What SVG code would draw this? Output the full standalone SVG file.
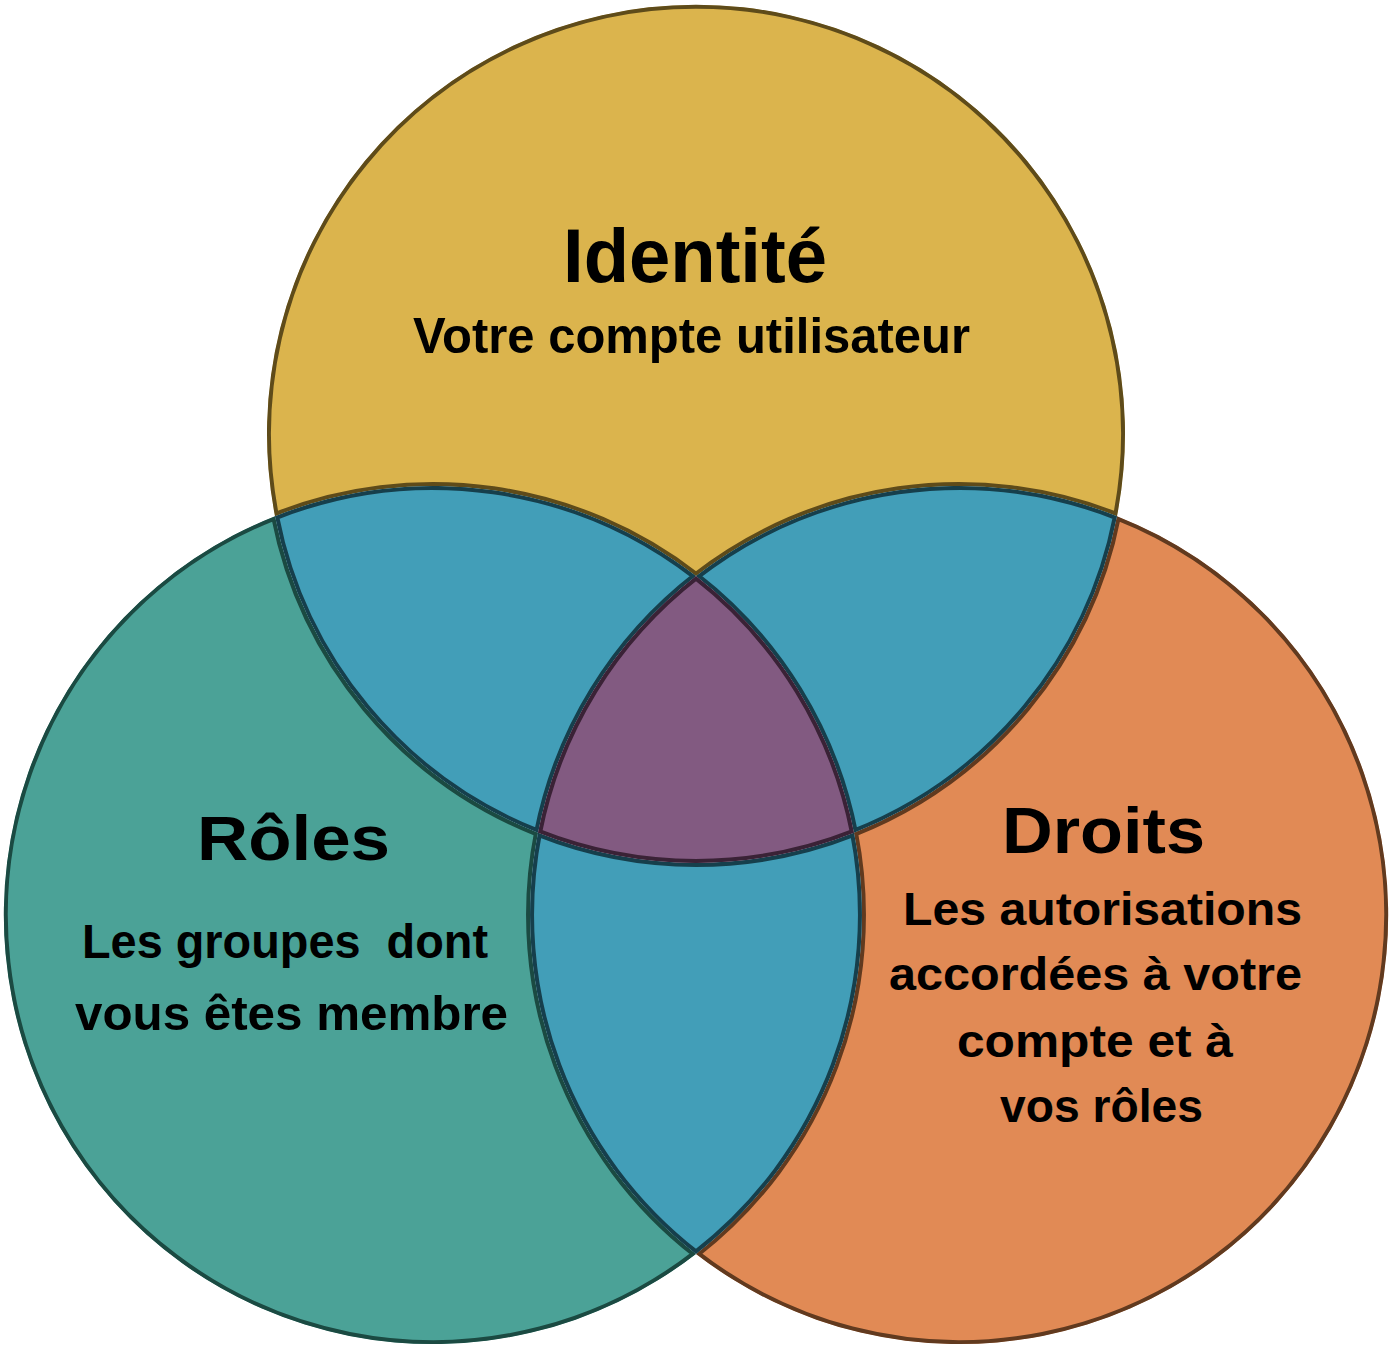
<svg xmlns="http://www.w3.org/2000/svg" xmlns:xlink="http://www.w3.org/1999/xlink" width="1394" height="1350" viewBox="0 0 1394 1350">
<style>
.t{font-family:"Liberation Sans",Arial,sans-serif;font-weight:bold;fill:#000}
.ttl{font-size:76px}
.sub{font-size:48px}
.reg{stroke-width:8}
.y{fill:#DBB44D;stroke:#5E4B1A}
.tl{fill:#4BA297;stroke:#1B4A42}
.o{fill:#E18A55;stroke:#613A1F}
.b{fill:#429EB8;stroke:#163F4C}
.p{fill:#825A81;stroke:#3A2236}
</style>
<defs>
<path id="pY" d="M275,516.2 A429,429 0 1 1 1117,516.2 A429,429 0 0 0 696,576.1 A429,429 0 0 0 275,516.2 Z"/>
<path id="pT" d="M275,516.2 A429,429 0 1 0 696,1253.9 A429,429 0 0 1 538,832.8 A429,429 0 0 1 275,516.2 Z"/>
<path id="pO" d="M1117,516.2 A429,429 0 1 1 696,1253.9 A429,429 0 0 0 854,832.8 A429,429 0 0 0 1117,516.2 Z"/>
<path id="pB12" d="M275,516.2 A429,429 0 0 1 696,576.1 A429,429 0 0 0 538,832.8 A429,429 0 0 1 275,516.2 Z"/>
<path id="pB13" d="M1117,516.2 A429,429 0 0 0 696,576.1 A429,429 0 0 1 854,832.8 A429,429 0 0 0 1117,516.2 Z"/>
<path id="pB23" d="M538,832.8 A429,429 0 0 0 854,832.8 A429,429 0 0 1 696,1253.9 A429,429 0 0 1 538,832.8 Z"/>
<path id="pP" d="M696,576.1 A429,429 0 0 1 854,832.8 A429,429 0 0 1 538,832.8 A429,429 0 0 1 696,576.1 Z"/>
<clipPath id="cY"><use xlink:href="#pY"/></clipPath>
<clipPath id="cT"><use xlink:href="#pT"/></clipPath>
<clipPath id="cO"><use xlink:href="#pO"/></clipPath>
<clipPath id="cB12"><use xlink:href="#pB12"/></clipPath>
<clipPath id="cB13"><use xlink:href="#pB13"/></clipPath>
<clipPath id="cB23"><use xlink:href="#pB23"/></clipPath>
<clipPath id="cP"><use xlink:href="#pP"/></clipPath>
</defs>
<g id="identite">
<use xlink:href="#pY" class="reg y" clip-path="url(#cY)"/>
<text class="t ttl" x="563" y="282" textLength="264" lengthAdjust="spacingAndGlyphs">Identité</text>
<text class="t" style="font-size:50px" x="413" y="353" textLength="557" lengthAdjust="spacingAndGlyphs">Votre compte utilisateur</text>
</g>
<g id="roles">
<use xlink:href="#pT" class="reg tl" clip-path="url(#cT)"/>
<text class="t" style="font-size:63px" x="197" y="860" textLength="193" lengthAdjust="spacingAndGlyphs">Rôles</text>
<text class="t sub" x="82" y="958" textLength="406" lengthAdjust="spacingAndGlyphs" xml:space="preserve">Les groupes  dont</text>
<text class="t sub" x="75" y="1030" textLength="433" lengthAdjust="spacingAndGlyphs">vous êtes membre</text>
</g>
<g id="droits">
<use xlink:href="#pO" class="reg o" clip-path="url(#cO)"/>
<text class="t" style="font-size:64px" x="1002" y="853" textLength="203" lengthAdjust="spacingAndGlyphs">Droits</text>
<text class="t" style="font-size:46px" x="903" y="925" textLength="399" lengthAdjust="spacingAndGlyphs">Les autorisations</text>
<text class="t" style="font-size:46px" x="889" y="990" textLength="413" lengthAdjust="spacingAndGlyphs">accordées à votre</text>
<text class="t" style="font-size:46px" x="957" y="1057" textLength="276" lengthAdjust="spacingAndGlyphs">compte et à</text>
<text class="t" style="font-size:46px" x="1000" y="1122" textLength="203" lengthAdjust="spacingAndGlyphs">vos rôles</text>
</g>
<g id="identite-roles">
<use xlink:href="#pB12" class="reg b" clip-path="url(#cB12)"/>
</g>
<g id="identite-droits">
<use xlink:href="#pB13" class="reg b" clip-path="url(#cB13)"/>
</g>
<g id="roles-droits">
<use xlink:href="#pB23" class="reg b" clip-path="url(#cB23)"/>
</g>
<g id="centre">
<use xlink:href="#pP" class="reg p" clip-path="url(#cP)"/>
</g>
<g id="connectors"/>
</svg>
